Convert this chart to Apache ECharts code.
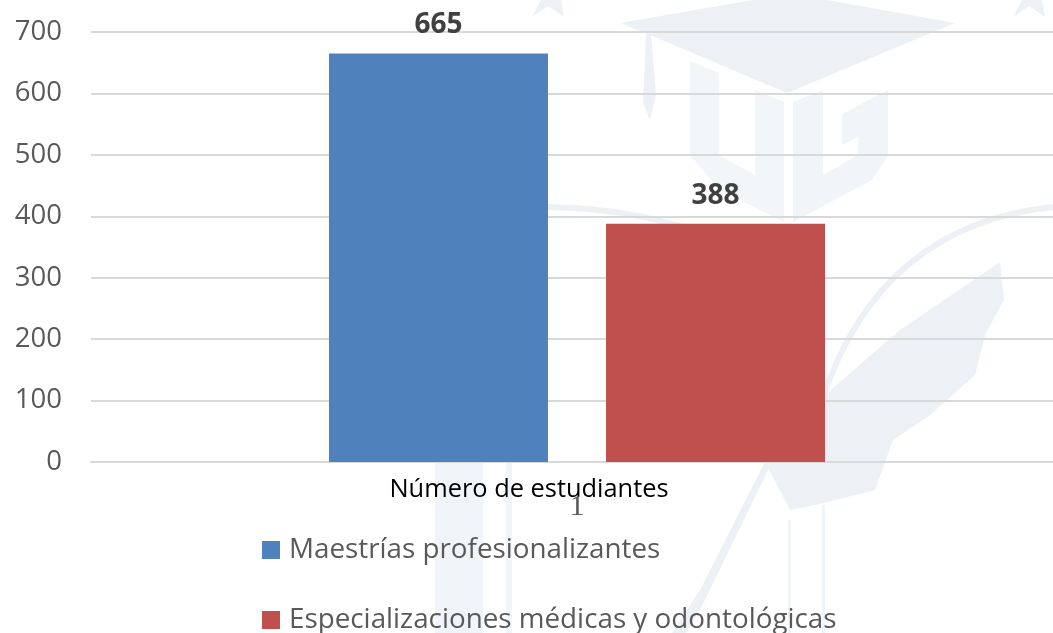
<!DOCTYPE html>
<html>
<head>
<meta charset="utf-8">
<title>Número de estudiantes</title>
<script src="https://cdn.jsdelivr.net/npm/echarts@6/dist/echarts.min.js"></script>
<style>
html, body { margin: 0; padding: 0; background: #fff; }
#main { width: 1053px; height: 633px; }
</style>
</head>
<body>
<div id="main"></div>
<script>
const categories = ['1']
const axisTitle = 'Número de estudiantes'
const seriesNames = ['Maestrías profesionalizantes', 'Especializaciones médicas y odontológicas']
const maestrias = [665]
const especializaciones = [388]

const font = '"Open Sans", "Noto Sans", sans-serif'
const mark = '#edf0f5'

// faint university crest behind the plot
function wm(points, fill) {
  return { type: 'polygon', silent: true, z: -10, shape: { points: points }, style: { fill: fill || mark } }
}
function arc(x1, y1, cx, cy, x2, y2, width) {
  return {
    type: 'bezierCurve', silent: true, z: -10,
    shape: { x1: x1, y1: y1, cpx1: cx, cpy1: cy, x2: x2, y2: y2 },
    style: { stroke: mark, lineWidth: width, fill: null }
  }
}
const watermark = [
  wm([[620, 23], [753, 0], [827, 0], [955, 23], [787, 93], [650, 35]]),
  wm([[646, 33], [651, 35], [656, 95], [650, 120], [643, 103]]),
  wm([[690, 61], [719, 73], [719, 155], [755, 175], [755, 90], [784, 102], [784, 222], [720, 190], [690, 155]], '#f3f6f9'),
  wm([[793, 102], [823, 90], [823, 175], [858, 155], [858, 137], [842, 145], [842, 114], [888, 90], [888, 155], [872, 180], [793, 222]], '#f1f4f8'),
  wm([[532, 17], [541, 0], [561, 0], [564, 17], [548, 6]]),
  wm([[1013, 17], [1022, 0], [1042, 0], [1045, 17], [1029, 6]]),
  wm([[435, 462], [483, 462], [483, 633], [435, 633]], '#f1f4f8'),
  wm([[506, 462], [512, 462], [512, 633], [506, 633]], '#f1f4f8'),
  wm([[788, 520], [791, 520], [791, 633], [788, 633]], '#f1f4f8'),
  wm([[822, 505], [825, 505], [825, 633], [822, 633]], '#f1f4f8'),
  // feather and quill
  wm([[1000, 262], [1004, 300], [985, 335], [975, 375], [930, 415], [893, 440], [875, 490], [815, 505], [790, 510], [765, 462], [825, 395], [900, 330]]),
  wm([[765, 462], [772, 462], [700, 610], [686, 633], [672, 633], [700, 590]]),
  arc(1053, 207, 880, 225, 822, 400, 6),
  arc(548, 207, 640, 208, 720, 240, 6)
]

const chart = echarts.init(document.getElementById('main'))
chart.setOption({
  animation: false,
  backgroundColor: '#ffffff',
  textStyle: { fontFamily: font },
  graphic: watermark,
  grid: { left: 91, top: 32, width: 972, height: 430, outerBoundsMode: 'none' },
  legend: {
    orient: 'vertical',
    left: 262,
    top: 536,
    height: 100,
    padding: 0,
    itemWidth: 18,
    itemHeight: 18,
    itemGap: 42,
    icon: 'rect',
    textStyle: { fontFamily: font, fontSize: 27.8, color: '#595959', padding: [0, 0, 0, 4] },
    data: seriesNames
  },
  xAxis: {
    type: 'category',
    data: categories,
    name: axisTitle,
    nameLocation: 'middle',
    nameGap: 15,
    nameMoveOverlap: false,
    nameTextStyle: { fontFamily: font, fontSize: 25.4, color: '#000000', verticalAlign: 'top', padding: [0, 96, 0, 0] },
    axisTick: { show: false },
    axisLine: { lineStyle: { color: '#d9d9d9', width: 2 } },
    axisLabel: { fontFamily: '"Liberation Serif", serif', fontSize: 30, color: '#595959', margin: 30 }
  },
  yAxis: {
    type: 'value',
    min: 0,
    max: 700,
    interval: 100,
    axisLine: { show: false },
    axisTick: { show: false },
    axisLabel: { fontFamily: font, fontSize: 27.5, color: '#595959', margin: 29, padding: [4, 0, 0, 0] },
    splitLine: { lineStyle: { color: '#d9d9d9', width: 2 } }
  },
  series: [
    {
      name: seriesNames[0],
      type: 'bar',
      data: maestrias,
      barWidth: 219,
      barGap: '26.5%',
      itemStyle: { color: '#4f81bd' },
      label: { show: true, position: 'top', distance: 14, fontFamily: font, fontSize: 28, fontWeight: 'bold', color: '#404040' }
    },
    {
      name: seriesNames[1],
      type: 'bar',
      data: especializaciones,
      barWidth: 219,
      itemStyle: { color: '#c0504d' },
      label: { show: true, position: 'top', distance: 14, fontFamily: font, fontSize: 28, fontWeight: 'bold', color: '#404040' }
    }
  ]
})
</script>
</body>
</html>
